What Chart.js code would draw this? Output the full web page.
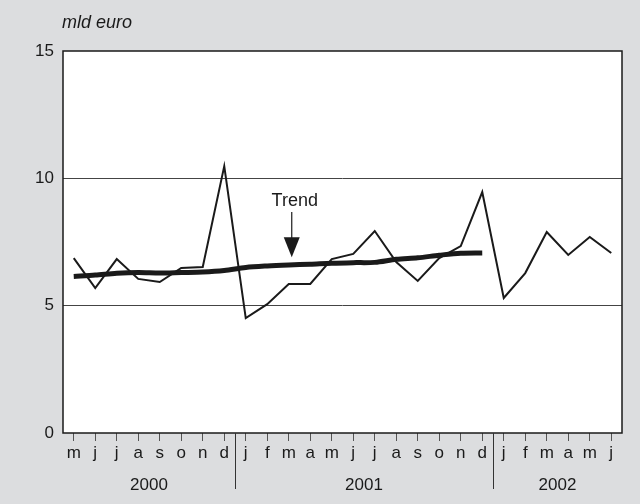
<!DOCTYPE html>
<html>
<head>
<meta charset="utf-8">
<script src="https://cdn.jsdelivr.net/npm/chart.js@4.4.1/dist/chart.umd.min.js"></script>
<style>
body { margin: 0; background: #dcdddf; }
#wrap { width: 640px; height: 504px; position: relative; }
</style>
</head>
<body>
<div id="wrap"><canvas id="lineChart" width="640" height="504"></canvas></div>
<script>
// months May 2000 - June 2002
var months = ['m','j','j','a','s','o','n','d',
              'j','f','m','a','m','j','j','a','s','o','n','d',
              'j','f','m','a','m','j'];
var years = ['2000', '2001', '2002'];
var yearCounts = [8, 12, 6];
var monthly = [6.87, 5.69, 6.83, 6.05, 5.93, 6.48, 6.52, 10.48,
               4.51, 5.06, 5.85, 5.85, 6.83, 7.03, 7.93, 6.71, 5.97, 6.87, 7.34, 9.46,
               5.30, 6.28, 7.89, 6.99, 7.70, 7.07];
var trend = [6.15, 6.20, 6.27, 6.30, 6.28, 6.30, 6.32, 6.38,
             6.50, 6.56, 6.60, 6.63, 6.67, 6.69, 6.70, 6.82, 6.88, 6.98, 7.06, 7.07,
             null, null, null, null, null, null];
var yTicks = [0, 5, 10, 15];
var unitLabel = 'mld euro';
var trendLabel = 'Trend';

var FONT = 'Arial, "Liberation Sans", Helvetica, sans-serif';
var INK = '#1a1a1a';

var extras = {
    id: 'extras',
    beforeDraw: function(chart) {
        var a = chart.chartArea, c = chart.ctx;
        c.save();
        c.fillStyle = '#ffffff';
        c.fillRect(a.left, a.top, a.right - a.left, a.bottom - a.top);
        c.restore();
    },
    afterDraw: function(chart) {
        var a = chart.chartArea, c = chart.ctx;
        var x = chart.scales.x, y = chart.scales.y;
        c.save();
        // frame
        c.strokeStyle = INK;
        c.lineWidth = 1.5;
        c.strokeRect(a.left, a.top, a.right - a.left, a.bottom - a.top);

        // unit label
        c.fillStyle = INK;
        c.font = 'italic 18px ' + FONT;
        c.textAlign = 'left';
        c.textBaseline = 'middle';
        c.fillText(unitLabel, 62, 23);

        // year separators and labels
        c.font = '17px ' + FONT;
        c.textAlign = 'center';
        c.lineWidth = 1;
        c.strokeStyle = '#333';
        var start = 0;
        for (var i = 0; i < years.length; i++) {
            var end = start + yearCounts[i] - 1;
            var x0 = start === 0 ? a.left : (x.getPixelForValue(start - 1) + x.getPixelForValue(start)) / 2;
            var x1 = i === years.length - 1 ? a.right : (x.getPixelForValue(end) + x.getPixelForValue(end + 1)) / 2;
            c.fillText(years[i], (x0 + x1) / 2, 485);
            if (i < years.length - 1) {
                c.beginPath();
                c.moveTo(Math.round(x1) + 0.5, a.bottom);
                c.lineTo(Math.round(x1) + 0.5, 489);
                c.stroke();
            }
            start = end + 1;
        }

        // trend annotation
        var ax = x.getPixelForValue(10) + 3;
        var tip = y.getPixelForValue(6.9);
        var top = y.getPixelForValue(8.68);
        c.font = '18px ' + FONT;
        c.fillText(trendLabel, ax + 3, y.getPixelForValue(9.1));
        c.strokeStyle = INK;
        c.lineWidth = 1.2;
        c.beginPath();
        c.moveTo(ax, top);
        c.lineTo(ax, tip - 18);
        c.stroke();
        c.beginPath();
        c.moveTo(ax - 8, tip - 20);
        c.lineTo(ax + 8, tip - 20);
        c.lineTo(ax, tip);
        c.closePath();
        c.fill();
        c.restore();
    }
};

var ctx = document.getElementById('lineChart').getContext('2d');
var myChart = new Chart(ctx, {
    type: 'line',
    data: {
        labels: months,
        datasets: [{
            label: 'monthly',
            data: monthly,
            borderColor: INK,
            borderWidth: 2,
            pointRadius: 0,
            tension: 0,
            fill: false
        }, {
            label: 'Trend',
            data: trend,
            borderColor: INK,
            borderWidth: 5,
            pointRadius: 0,
            tension: 0.3,
            fill: false,
            spanGaps: false
        }]
    },
    options: {
        responsive: false,
        animation: false,
        layout: { padding: { top: 51, right: 18, left: 0, bottom: 0 } },
        plugins: { legend: { display: false }, tooltip: { enabled: false } },
        scales: {
            x: {
                offset: true,
                border: { display: false },
                grid: {
                    offset: false,
                    drawOnChartArea: false,
                    drawTicks: true,
                    tickLength: 8,
                    color: '#555'
                },
                ticks: {
                    autoSkip: false,
                    maxRotation: 0,
                    padding: 2,
                    color: INK,
                    font: { family: FONT, size: 17 }
                },
                afterFit: function(s) { s.height = 71; }
            },
            y: {
                min: 0,
                max: 15,
                border: { display: false },
                afterBuildTicks: function(s) {
                    s.ticks = yTicks.map(function(v) { return { value: v }; });
                },
                grid: {
                    drawTicks: false,
                    color: function(c) {
                        var v = c.tick && c.tick.value;
                        return (v === 5 || v === 10) ? '#444' : 'rgba(0,0,0,0)';
                    },
                    lineWidth: 1
                },
                ticks: {
                    padding: 9,
                    color: INK,
                    font: { family: FONT, size: 17 }
                },
                afterFit: function(s) { s.width = 63; }
            }
        }
    },
    plugins: [extras]
});
</script>
</body>
</html>
